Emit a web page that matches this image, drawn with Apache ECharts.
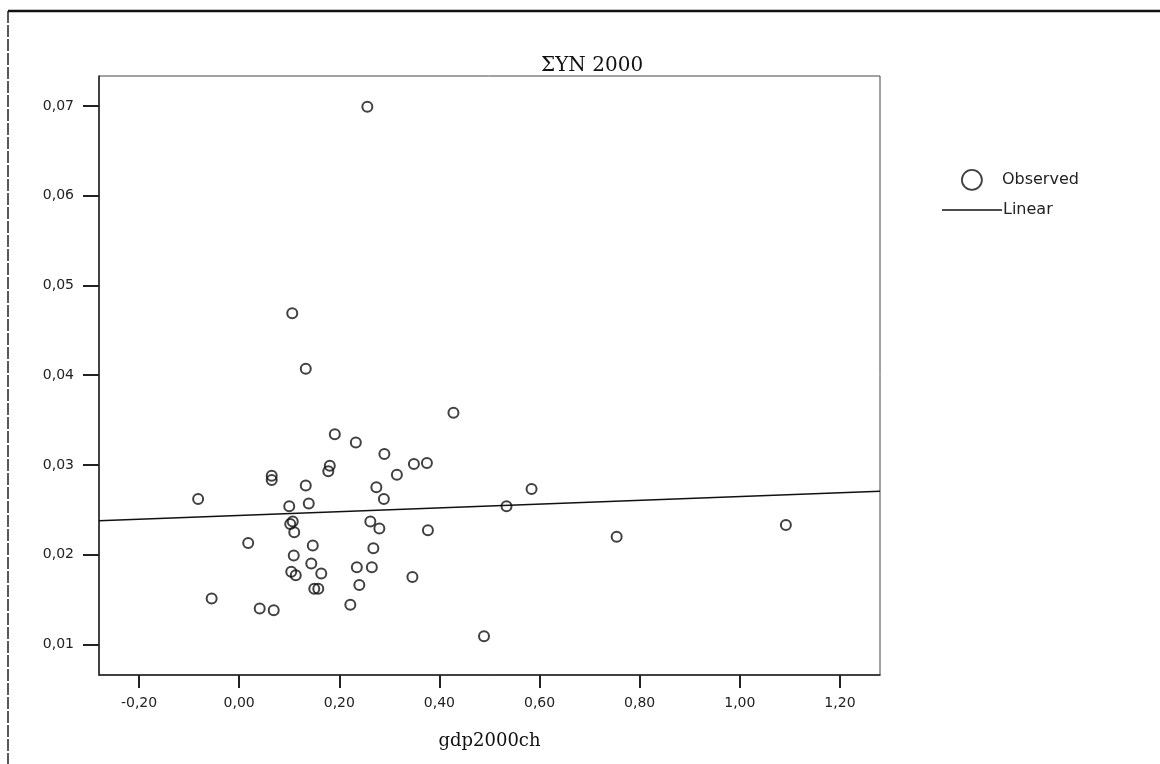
<!DOCTYPE html>
<html>
<head>
<meta charset="utf-8">
<script src="https://cdn.jsdelivr.net/npm/echarts@6/dist/echarts.min.js"></script>
<style>
html,body{margin:0;padding:0;background:#fff;}
#chart{width:1160px;height:764px;}
</style>
</head>
<body>
<div id="chart"></div>
<script>
// Observed values (x: gdp2000ch, y: ΣΥΝ 2000)
const gdp2000ch = [
  -0.082, 0.428, 0.191, 0.233, 0.290, 0.181, 0.178, 0.349, 0.375, 0.065,
  0.065, 0.315, 0.133, 0.274, 0.584, 0.289, 0.139, 0.100, 0.534, 0.107,
  0.102, 0.262, 0.280, 0.377, 0.110, 0.018, 0.147, 0.268, 0.109, 0.144,
  0.235, 0.265, 0.104, 0.113, 0.164, 0.346, 0.240, 0.150, 0.158, -0.055,
  0.041, 0.069, 0.222, 0.489, 0.256, 0.106, 0.133, 0.754, 1.092
];
const syn2000 = [
  0.0262, 0.0358, 0.0334, 0.0325, 0.0312, 0.0299, 0.0293, 0.0301, 0.0302, 0.0288,
  0.0283, 0.0289, 0.0277, 0.0275, 0.0273, 0.0262, 0.0257, 0.0254, 0.0254, 0.0237,
  0.0234, 0.0237, 0.0229, 0.0227, 0.0225, 0.0213, 0.0210, 0.0207, 0.0199, 0.0190,
  0.0186, 0.0186, 0.0181, 0.0177, 0.0179, 0.0175, 0.0166, 0.0162, 0.0162, 0.0151,
  0.0140, 0.0138, 0.0144, 0.0109, 0.0699, 0.0469, 0.0407, 0.0220, 0.0233
];
// Linear fit line, read at the two ends of the x axis
const linearX = [-0.28, 1.28];
const linearY = [0.02376, 0.02705];

const xTicks = [-0.2, 0, 0.2, 0.4, 0.6, 0.8, 1.0, 1.2];
const yTicks = [0.01, 0.02, 0.03, 0.04, 0.05, 0.06, 0.07];
const xRange = [-0.28, 1.28];
const yRange = [0.00658, 0.07334];

const fmt = v => v.toFixed(2).replace('.', ',');
const observed = gdp2000ch.map((x, i) => [x, syn2000[i]]);
const linear = linearX.map((x, i) => [x, linearY[i]]);

const chart = echarts.init(document.getElementById('chart'), null, {renderer: 'canvas'});
chart.setOption({
  animation: false,
  backgroundColor: '#fff',
  title: {
    text: 'ΣΥΝ 2000',
    left: 536, top: 51,
    textStyle: {fontFamily: 'DejaVu Serif', fontSize: 20, fontWeight: 'normal', color: '#111'}
  },
  legend: [
    {
      left: 956, top: 164, orient: 'vertical',
      itemWidth: 22, itemHeight: 20,
      data: [{name: 'Observed', icon: 'circle',
        itemStyle: {color: 'transparent', borderColor: '#111', borderWidth: 1.8}}],
      textStyle: {fontFamily: 'DejaVu Sans', fontSize: 16, color: '#222', padding: [0, 0, 0, 14]}
    },
    {
      left: 937, top: 197, orient: 'vertical',
      itemWidth: 60, itemHeight: 18,
      data: [{name: 'Linear', icon: 'path://M0,9 L60,9 L60,10.5 L0,10.5 Z',
        itemStyle: {color: '#111'}}],
      textStyle: {fontFamily: 'DejaVu Sans', fontSize: 16, color: '#222', padding: [0, 0, 0, -4]}
    }
  ],
  grid: {
    left: 99, top: 76, width: 781, height: 599,
    show: true, borderColor: '#444', borderWidth: 1
  },
  xAxis: {
    type: 'value', min: xRange[0], max: xRange[1],
    name: 'gdp2000ch', nameLocation: 'middle', nameGap: 57,
    nameTextStyle: {fontFamily: 'DejaVu Serif', fontSize: 18, color: '#111'},
    axisLine: {show: true, onZero: false, lineStyle: {color: '#222', width: 1.5}},
    axisTick: {show: true, length: 13, customValues: xTicks, lineStyle: {color: '#222', width: 2}},
    axisLabel: {customValues: xTicks, formatter: fmt, margin: 21,
      fontFamily: 'DejaVu Sans', fontSize: 14, color: '#222'},
    splitLine: {show: false}
  },
  yAxis: {
    type: 'value', min: yRange[0], max: yRange[1],
    axisLine: {show: true, onZero: false, lineStyle: {color: '#222', width: 1.5}},
    axisTick: {show: true, length: 16, customValues: yTicks, lineStyle: {color: '#222', width: 2}},
    axisLabel: {customValues: yTicks, formatter: fmt, margin: 25,
      fontFamily: 'DejaVu Sans', fontSize: 14, color: '#222'},
    splitLine: {show: false}
  },
  graphic: [
    {type: 'line', shape: {x1: 8, y1: 11, x2: 1160, y2: 11}, style: {stroke: '#111', lineWidth: 2.5}},
    {type: 'line', shape: {x1: 8, y1: 11, x2: 8, y2: 764}, style: {stroke: '#222', lineWidth: 1.5, lineDash: [12, 2]}}
  ],
  series: [
    {
      name: 'Observed', type: 'scatter', data: observed,
      symbol: 'circle', symbolSize: 10,
      itemStyle: {color: 'transparent', borderColor: '#111', borderWidth: 2},
      z: 3
    },
    {
      name: 'Linear', type: 'line', data: linear,
      showSymbol: false, symbol: 'none',
      lineStyle: {color: '#111', width: 1.5},
      z: 2
    }
  ]
});
</script>
</body>
</html>
